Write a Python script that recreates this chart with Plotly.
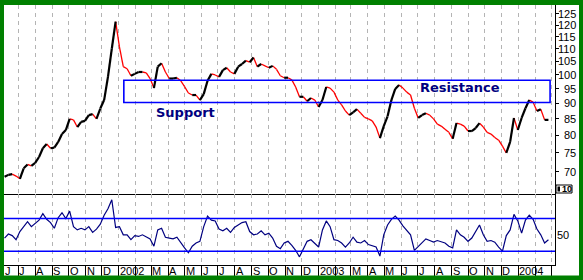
import numpy as np
import pandas as pd
import plotly.graph_objects as go

# ---------------- data (weekly) ----------------
week_start = "2001-06-06"
close = [68.7, 69.2, 69.4, 68.9, 68.2, 70.9, 71.9, 71.5, 72.3, 73.9,
         76.3, 77.5, 76.3, 76.5, 78.1, 80.4, 81.6, 85.0, 84.7, 82.5,
         84.1, 84.4, 86.2, 86.5, 85.0, 88.3, 91.1, 99.2, 110.0, 121.5,
         110.8, 103.0, 102.2, 99.6, 100.3, 101.0, 101.0, 100.7, 98.6, 95.2,
         103.0, 104.3, 101.0, 98.6, 98.6, 98.9, 97.8, 95.7, 93.5, 92.8,
         92.8, 91.1, 93.1, 97.8, 100.3, 99.9, 99.2, 101.7, 102.6, 101.0,
         100.3, 103.0, 104.0, 105.3, 104.7, 106.5, 103.0, 104.0, 103.3, 102.6,
         103.3, 102.0, 99.6, 98.9, 98.9, 98.1, 95.6, 92.2, 92.2, 90.7,
         91.8, 91.1, 88.8, 91.1, 95.6, 95.2, 93.8, 91.1, 89.5, 87.5,
         86.2, 87.1, 88.1, 86.8, 85.5, 85.0, 84.4, 82.5, 79.2, 82.8,
         85.8, 91.1, 94.9, 96.3, 95.2, 93.8, 92.8, 88.4, 85.3, 86.2,
         86.8, 86.2, 85.0, 83.4, 82.8, 81.8, 80.9, 79.0, 83.7, 83.4,
         82.8, 81.3, 81.3, 82.2, 83.7, 82.5, 80.9, 80.4, 79.4, 78.6,
         76.9, 75.0, 78.1, 85.3, 81.6, 85.3, 88.4, 91.1, 90.4, 87.5,
         88.1, 84.7, 84.7]
rsi = [46, 51, 49, 44, 54, 60, 66, 60, 64, 68,
       76, 69, 65, 58, 71, 77, 70, 79, 60, 56,
       58, 56, 60, 53, 57, 63, 74, 82, 93, 59,
       60, 50, 50, 44, 49, 48, 50, 48, 45, 36,
       56, 58, 47, 46, 45, 47, 40, 34, 28, 36,
       40, 42, 60, 73, 68, 67, 57, 55, 58, 53,
       59, 62, 65, 66, 54, 50, 51, 55, 50, 52,
       46, 36, 33, 40, 42, 37, 31, 23, 32, 42,
       44, 40, 35, 56, 67, 60, 44, 43, 40, 35,
       40, 47, 41, 40, 43, 38, 36, 35, 24, 50,
       62, 69, 73, 68, 61, 56, 50, 31, 36, 41,
       45, 43, 41, 43, 41, 40, 36, 34, 56, 50,
       47, 42, 46, 54, 62, 50, 42, 43, 41, 35,
       30, 49, 56, 75, 67, 52, 68, 74, 69, 57,
       50, 40, 44]
dates = pd.date_range(week_start, periods=len(close), freq="7D")

price_ticks = [70, 75, 80, 85, 90, 95, 100, 105, 110, 115, 120, 125]
rsi_levels = [70, 30]
rsi_ticks = [50]
month_starts = pd.date_range("2001-06-01", "2004-03-01", freq="MS")
month_labels = ["J", "J", "A", "S", "O", "N", "D",
                "2002", "", "M", "A", "M", "J", "J", "A", "S", "O", "N", "D",
                "2003", "", "M", "A", "M", "J", "J", "A", "S", "O", "N", "D",
                "2004", "", ""]
zone_low, zone_high = 90.3, 98.0
zone_start, zone_end = "2002-01-10", "2004-02-28"

# ---------------- figure ----------------
x_start, x_end = pd.Timestamp("2001-06-05"), pd.Timestamp("2004-03-08")
W, H = 583, 280
ml, mr, mt, mb = 4, 28, 5, 15
pw, ph = W - ml - mr, H - mt - mb
split = 71 / ph

def px_x(p):
    return (p - ml) / pw

def px_y(p):
    return (H - mb - p) / ph

up_x, up_y, dn_x, dn_y = [], [], [], []
for i in range(len(close) - 1):
    sx = [dates[i], dates[i + 1], None]
    sy = [close[i], close[i + 1], None]
    if close[i + 1] >= close[i]:
        up_x += sx; up_y += sy
    else:
        dn_x += sx; dn_y += sy

fig = go.Figure()
fig.add_trace(go.Scatter(x=dn_x, y=dn_y, mode="lines",
                         line=dict(color="#ff0000", width=1.3),
                         xaxis="x", yaxis="y", hoverinfo="skip"))
fig.add_trace(go.Scatter(x=up_x, y=up_y, mode="lines",
                         line=dict(color="#000000", width=2.2),
                         xaxis="x", yaxis="y", hoverinfo="skip"))
fig.add_trace(go.Scatter(x=dates, y=rsi, mode="lines",
                         line=dict(color="#000080", width=1.2),
                         xaxis="x2", yaxis="y2", hoverinfo="skip"))

grid = dict(showgrid=True, gridcolor="#b4b4b4", gridwidth=1, griddash="4px,4px")
fig.update_layout(
    width=W, height=H, autosize=False,
    margin=dict(l=ml, r=mr, t=mt, b=mb, pad=0),
    paper_bgcolor="#ffffff", plot_bgcolor="#ffffff",
    showlegend=False,
    font=dict(family="Liberation Sans, Arial, sans-serif", size=11, color="black"),
    xaxis=dict(domain=[0, 1], anchor="y", type="date",
               range=[x_start, x_end], tickvals=list(month_starts),
               showticklabels=False, ticks="", zeroline=False,
               showline=True, linecolor="black", linewidth=1, **grid),
    yaxis=dict(domain=[split, 1], anchor="x", type="log", side="right",
               range=[np.log10(64.5), np.log10(129.2)],
               tickvals=price_ticks, showticklabels=False,
               ticks="outside", ticklen=3, tickcolor="black",
               showline=True, linecolor="black", linewidth=1,
               showgrid=False, zeroline=False),
    xaxis2=dict(domain=[0, 1], anchor="y2", type="date",
                range=[x_start, x_end], tickvals=list(month_starts),
                showticklabels=False, ticks="outside", ticklen=10,
                tickcolor="black", tickwidth=1, zeroline=False,
                showline=True, linecolor="black", linewidth=1, **grid),
    yaxis2=dict(domain=[0, split], anchor="x2", side="right",
                range=[13, 100], tickvals=rsi_ticks, showticklabels=False,
                ticks="", showline=True, linecolor="black", linewidth=1,
                showgrid=False, zeroline=False),
)

green = "#008000"
shapes = [
    # support / resistance zone
    dict(type="rect", xref="x", yref="y", x0=zone_start, x1=zone_end,
         y0=zone_low, y1=zone_high,
         line=dict(color="#0000ff", width=1.6), fillcolor="rgba(0,0,0,0)"),
    # small "10" box
    dict(type="rect", xref="paper", yref="paper", x0=px_x(556), x1=px_x(572),
         y0=px_y(193), y1=px_y(185), fillcolor="white",
         line=dict(color="black", width=1)),
    dict(type="rect", xref="paper", yref="paper", x0=px_x(557.5), x1=px_x(560),
         y0=px_y(191.5), y1=px_y(186.5), fillcolor="black", line=dict(width=0)),
    # green frame
    dict(type="rect", xref="paper", yref="paper", x0=px_x(0), x1=px_x(4),
         y0=px_y(280), y1=px_y(0), fillcolor=green, line=dict(width=0)),
    dict(type="rect", xref="paper", yref="paper", x0=px_x(579), x1=px_x(583),
         y0=px_y(280), y1=px_y(0), fillcolor=green, line=dict(width=0)),
    dict(type="rect", xref="paper", yref="paper", x0=px_x(0), x1=px_x(583),
         y0=px_y(5), y1=px_y(0), fillcolor=green, line=dict(width=0)),
    dict(type="rect", xref="paper", yref="paper", x0=px_x(0), x1=px_x(583),
         y0=px_y(280), y1=px_y(275.5), fillcolor=green, line=dict(width=0)),
]
for lv in rsi_levels:
    shapes.append(dict(type="line", xref="x2 domain", yref="y2", x0=0, x1=1,
                       y0=lv, y1=lv, line=dict(color="#0000ff", width=1.5)))
fig.update_layout(shapes=shapes)

ann = []
for d, lab in zip(month_starts, month_labels):
    if not lab:
        continue
    xd = max(d, x_start)
    ann.append(dict(x=xd, xref="x2", y=px_y(270.8), yref="paper", text=lab,
                    showarrow=False, xanchor="left", yanchor="middle",
                    xshift=-1, font=dict(size=11, color="black")))
for v in price_ticks:
    ann.append(dict(x=px_x(578), xref="paper", y=np.log10(v), yref="y",
                    text=str(v), showarrow=False, xanchor="right",
                    yanchor="middle", font=dict(size=11, color="black")))
for v in rsi_ticks:
    ann.append(dict(x=px_x(555), xref="paper", y=v, yref="y2", text=str(v),
                    showarrow=False, xanchor="left", yanchor="middle",
                    font=dict(size=11, color="black")))
ann.append(dict(x=px_x(560), xref="paper", y=px_y(189), yref="paper",
                text="<b>10</b>", showarrow=False, xanchor="left",
                yanchor="middle", font=dict(size=9, color="black")))
ann.append(dict(x="2002-05-03", xref="x", y=np.log10(87.0), yref="y",
                text="<b>Support</b>", showarrow=False,
                font=dict(family="DejaVu Sans", size=13, color="#000080")))
ann.append(dict(x="2003-09-16", xref="x", y=np.log10(95.3), yref="y",
                text="<b>Resistance</b>", showarrow=False,
                font=dict(family="DejaVu Sans", size=13, color="#000080")))
fig.update_layout(annotations=ann)

fig.write_html("out.html")
